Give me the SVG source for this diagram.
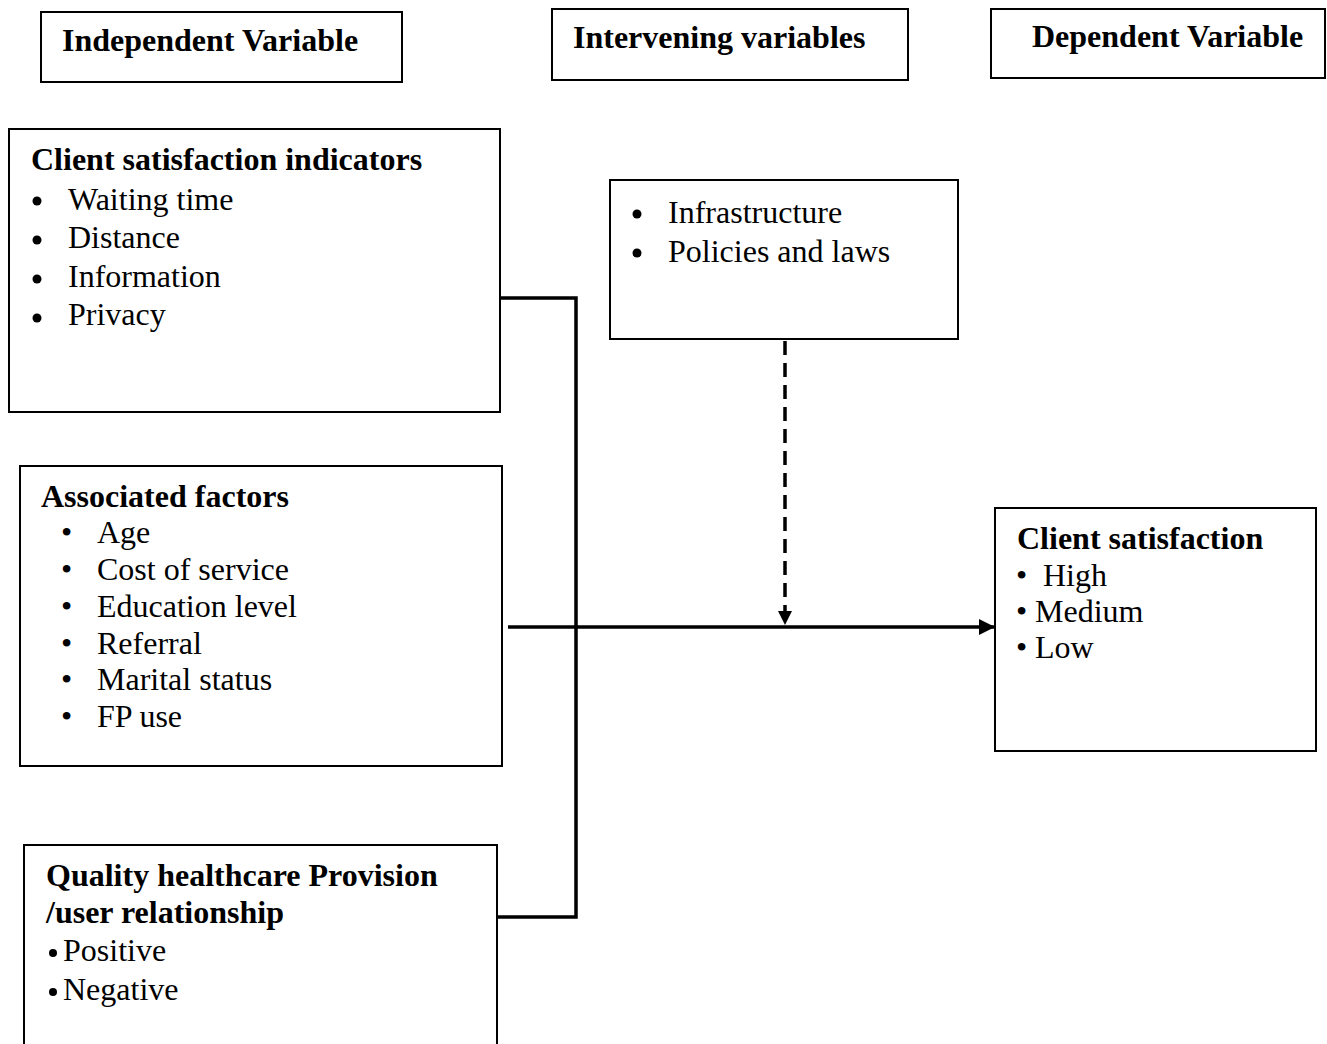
<svg xmlns="http://www.w3.org/2000/svg" width="1327" height="1044" viewBox="0 0 1327 1044">
<defs>
<style>
.box{fill:#fff;stroke:#000;stroke-width:2}
.h{font-family:"Liberation Serif","Times New Roman",serif;font-weight:bold;font-size:32px;fill:#000}
.t{font-family:"Liberation Serif","Times New Roman",serif;font-size:32px;fill:#000}
.b{fill:#000}
.c{fill:none;stroke:#000;stroke-width:3.5}
.d{fill:none;stroke:#000;stroke-width:3.5;stroke-dasharray:14,8}
</style>
<marker id="ah" markerWidth="14" markerHeight="14" refX="13" refY="7" orient="auto" markerUnits="userSpaceOnUse" viewBox="0 0 14 14">
<path d="M0,0 L14,7 L0,14 z" fill="#000"/>
</marker>
<marker id="ah2" markerWidth="16" markerHeight="16" refX="15" refY="8" orient="auto" markerUnits="userSpaceOnUse" viewBox="0 0 16 16">
<path d="M0,0 L16,8 L0,16 z" fill="#000"/>
</marker>
</defs>
<rect width="1327" height="1044" fill="#fff"/>
<g id="hdr-independent"><rect class="box" x="41" y="12" width="361" height="70"/><text class="h" x="62" y="51">Independent Variable</text></g>
<g id="hdr-intervening"><rect class="box" x="552" y="9" width="356" height="71"/><text class="h" x="573" y="48">Intervening variables</text></g>
<g id="hdr-dependent"><rect class="box" x="991" y="9" width="334" height="69"/><text class="h" x="1032" y="47">Dependent Variable</text></g>
<g id="node-indicators"><rect class="box" x="9" y="129" width="491" height="283"/>
<text class="h" x="31" y="170">Client satisfaction indicators</text>
<circle class="b" cx="37" cy="201" r="4.5"/><text class="t" x="68" y="210">Waiting time</text>
<circle class="b" cx="37" cy="240" r="4.5"/><text class="t" x="68" y="248">Distance</text>
<circle class="b" cx="37" cy="279" r="4.5"/><text class="t" x="68" y="287">Information</text>
<circle class="b" cx="37" cy="318" r="4.5"/><text class="t" x="68" y="325">Privacy</text>
</g>
<g id="node-associated"><rect class="box" x="20" y="466" width="482" height="300"/>
<text class="h" x="41" y="507">Associated factors</text>
<text class="t" x="61" y="543">•</text><text class="t" x="97" y="543">Age</text>
<text class="t" x="61" y="580">•</text><text class="t" x="97" y="580">Cost of service</text>
<text class="t" x="61" y="617">•</text><text class="t" x="97" y="617">Education level</text>
<text class="t" x="61" y="654">•</text><text class="t" x="97" y="654">Referral</text>
<text class="t" x="61" y="690">•</text><text class="t" x="97" y="690">Marital status</text>
<text class="t" x="61" y="727">•</text><text class="t" x="97" y="727">FP use</text>
</g>
<g id="node-quality"><rect class="box" x="24" y="845" width="473" height="210"/>
<text class="h" x="46" y="886">Quality healthcare Provision</text>
<text class="h" x="46" y="923">/user relationship</text>
<circle class="b" cx="53" cy="953" r="4"/><text class="t" x="63" y="961">Positive</text>
<circle class="b" cx="53" cy="992" r="4"/><text class="t" x="63" y="1000">Negative</text>
</g>
<g id="node-intervening"><rect class="box" x="610" y="180" width="348" height="159"/>
<circle class="b" cx="637" cy="214" r="4.5"/><text class="t" x="668" y="223">Infrastructure</text>
<circle class="b" cx="637" cy="253" r="4.5"/><text class="t" x="668" y="262">Policies and laws</text>
</g>
<g id="node-satisfaction"><rect class="box" x="995" y="508" width="321" height="243"/>
<text class="h" x="1017" y="549">Client satisfaction</text>
<text class="t" x="1016" y="586">•</text><text class="t" x="1043" y="586">High</text>
<text class="t" x="1016" y="622">•</text><text class="t" x="1035" y="622">Medium</text>
<text class="t" x="1016" y="658">•</text><text class="t" x="1035" y="658">Low</text>
</g>
<g id="connectors">
<path class="c" d="M500,298 H576 V917 H497"/>
<path class="c" d="M508,627 H994" marker-end="url(#ah2)"/>
<path class="d" d="M785,341 V624" marker-end="url(#ah)"/>
</g>
</svg>
